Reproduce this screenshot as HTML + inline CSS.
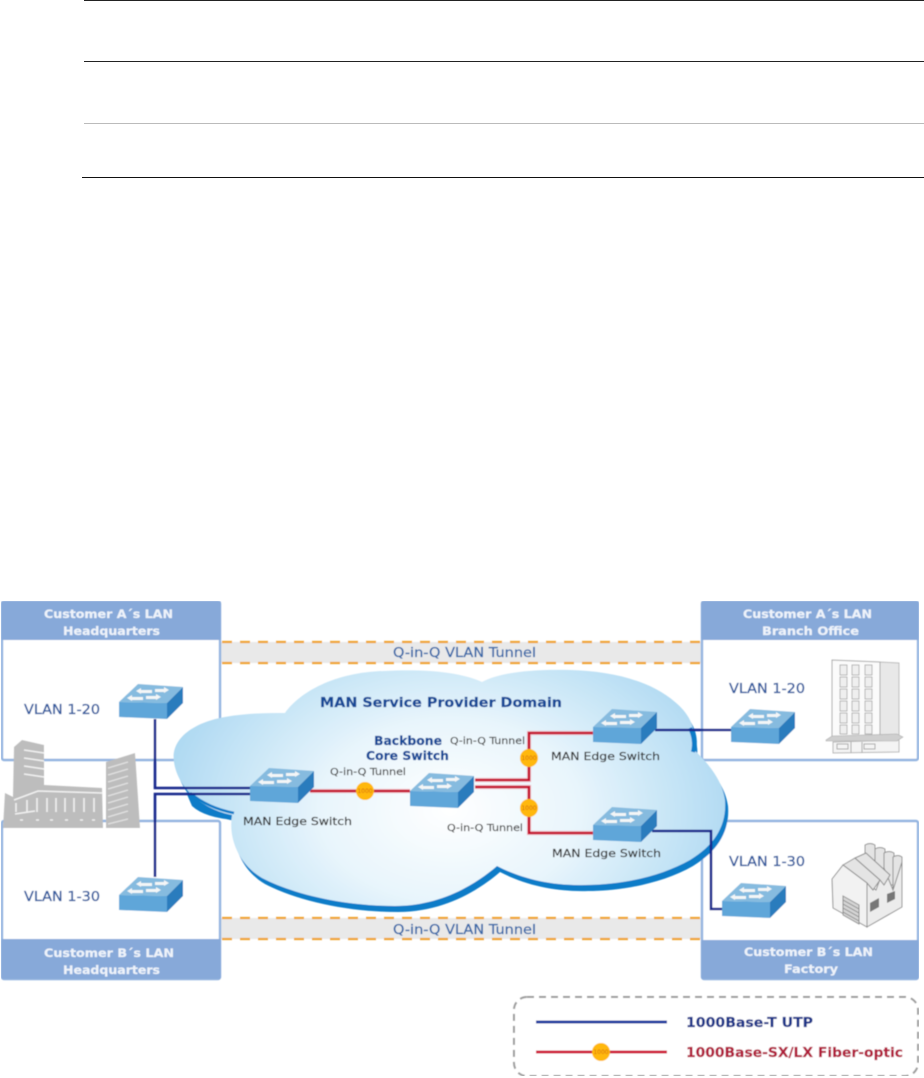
<!DOCTYPE html>
<html><head><meta charset="utf-8"><style>
html,body{margin:0;padding:0;background:#fff;width:924px;height:1078px;overflow:hidden}
svg{display:block}
text{font-family:"DejaVu Sans","Liberation Sans",sans-serif}
.h{font-weight:bold;font-size:11.5px;fill:#eef3fa;stroke:#eef3fa;stroke-width:.2}
.v{font-size:13px;fill:#2f5a9e;stroke:#2f5a9e;stroke-width:.3}
.q{font-size:10px;fill:#444;stroke:#444;stroke-width:.15}
.m{font-size:11px;fill:#333;stroke:#333;stroke-width:.2}
.b{font-weight:bold;fill:#174a96;stroke:#174a96;stroke-width:.2}
.t{font-size:13px;fill:#3768a8;stroke:#3768a8;stroke-width:.25}
</style></head><body>
<svg width="924" height="1078" viewBox="0 0 924 1078" xmlns="http://www.w3.org/2000/svg">
<defs>
<radialGradient id="cg" gradientUnits="userSpaceOnUse" cx="450" cy="810" r="290" gradientTransform="translate(0 243) scale(1 .7)">
<stop offset="0" stop-color="#ffffff"/><stop offset=".45" stop-color="#e8f5fc"/><stop offset="1" stop-color="#aed9f2"/>
</radialGradient>
<filter id="bl" x="0" y="0" width="100%" height="100%"><feGaussianBlur stdDeviation="0.4"/></filter>
<path id="cloud" d="M174 762C170 738 195 722 225 717C248 713 268 713 285 713C300 692 335 672 385 671C425 669 460 672 482 682C500 672 535 669 570 670C610 671 650 680 675 702C692 716 697 732 692 748C705 760 722 778 725 800C727 825 715 845 690 860C660 877 620 885 585 885C550 886 520 878 497 866C475 885 440 906 395 906C345 906 295 895 262 878C240 865 228 840 232 815C205 810 178 790 174 762Z"/>
<g id="sw">
<polygon points="0,18 19,0 64,3 48,19" fill="#86bbdf"/>
<polygon points="0,18 48,19 48,35 0,33" fill="#5ea6d9"/>
<polygon points="48,19 64,3 64,19 48,35" fill="#2a7cbd"/>
<g fill="#f4f6f7">
<polygon points="17,7 22,4 22,6 33,6 33,9 22,9 22,10"/>
<polygon points="50,6 45,3 45,5 36,5 36,8 45,8 45,9"/>
<polygon points="8,14 13,11 13,13 24,13 24,16 13,16 13,17"/>
<polygon points="42,13 37,10 37,12 27,12 27,15 37,15 37,16"/>
</g>
</g>
</defs>

<rect x="84" y="0" width="840" height="1" fill="#222"/>
<rect x="84" y="61" width="840" height="1" fill="#222"/>
<rect x="84" y="123" width="840" height="1" fill="#bbb"/>
<rect x="82" y="177" width="842" height="1" fill="#111"/>

<g filter="url(#bl)">
<!-- tunnels -->
<rect x="220" y="642" width="481" height="21" fill="#e9e9e9"/>
<rect x="220" y="918" width="481" height="21" fill="#e9e9e9"/>
<g stroke="#f0a22e" stroke-width="2.2" stroke-dasharray="10 8" fill="none">
<path d="M222 642H701M222 663H701M222 918H701M222 939H701"/>
</g>

<!-- boxes -->
<g fill="#fff" stroke="#93b4e0" stroke-width="2.4">
<rect x="2" y="602" width="218" height="158" rx="2"/>
<rect x="2" y="821" width="218" height="158" rx="2"/>
<rect x="702" y="602" width="216" height="158" rx="2"/>
<rect x="702" y="821" width="216" height="158" rx="2"/>
</g>
<g fill="#87a9d9">
<rect x="1" y="601" width="220" height="39" rx="2"/>
<rect x="1" y="939" width="220" height="40" rx="2"/>
<rect x="701" y="601" width="218" height="39" rx="2"/>
<rect x="701" y="940" width="218" height="39" rx="2"/>
</g>

<!-- left building -->
<g fill="#bdbdbd">
<polygon points="14,747 22,740 44,745 44,785 102,788 103,828 3,828 5,793 13,797"/>
<polygon points="106,762 135,753 140,828 106,828"/>
</g>
<g stroke="#f1f1f1" stroke-width="1.6" fill="none">
<path d="M24 750L44 753M24 758L44 761M24 766L44 769M24 774L44 777"/>
<path d="M14 800L38 791L102 793"/>
<path d="M16 803V812M27 800V812M37 798V812M47 798V812M56 798V812M65 798V812M74 798V812M84 798V812M94 798V812"/>
<path d="M15 814L35 811M20 820h3M36 820h3M50 820h3M65 820h3M80 820h3M92 820h3"/>
</g>
<g stroke="#e2e2e2" stroke-width="1.4" fill="none">
<path d="M108 768L128 762M108 775L128 769M108 782L128 776M108 789L128 783M108 796L128 790M108 803L128 797M108 810L128 804M108 817L128 811M108 824L128 819"/>
</g>

<!-- right building -->
<polygon points="880,662 899,663 899,737 880,737" fill="#e8e8e8" stroke="#bbb"/>
<polygon points="832,660 880,662 880,737 832,737" fill="#fbfbfb" stroke="#aaa"/>
<g fill="#efefef" stroke="#a6a6a6" stroke-width=".8">
<rect x="840" y="665" width="7" height="10"/><rect x="852" y="665" width="7" height="10"/><rect x="865" y="665" width="7" height="10"/>
<rect x="840" y="677" width="7" height="10"/><rect x="852" y="677" width="7" height="10"/><rect x="865" y="677" width="7" height="10"/>
<rect x="840" y="689" width="7" height="10"/><rect x="852" y="689" width="7" height="10"/><rect x="865" y="689" width="7" height="10"/>
<rect x="840" y="701" width="7" height="10"/><rect x="852" y="701" width="7" height="10"/><rect x="865" y="701" width="7" height="10"/>
<rect x="840" y="713" width="7" height="10"/><rect x="852" y="713" width="7" height="10"/><rect x="865" y="713" width="7" height="10"/>
<rect x="840" y="725" width="7" height="9"/><rect x="852" y="725" width="7" height="9"/><rect x="865" y="725" width="7" height="9"/>
</g>
<polygon points="833,742 899,740 899,752 833,753" fill="#f4f4f4" stroke="#b5b5b5"/>
<polygon points="826,740 832,736 897,734 903,737 897,741 826,741" fill="#cfcfcf" stroke="#aaa" stroke-width=".6"/>
<path d="M837 744h11v5h-11zM864 744h11v5h-11zM851 742v11M862 742v11" fill="none" stroke="#aaa"/>

<!-- factory -->
<g stroke="#8e8e8e" stroke-width="1" fill="#e4e4e4">
<path d="M865 845q5-3 10 0V875H865Z"/>
<path d="M875 849q5-3 10 0V880H875Z"/>
<path d="M884 853q5-3 10 0V885H884Z"/>
<path d="M893 857q5-3 9 0V890H893Z"/>
<polygon points="867,927 902,907 902,862 893,890 884,868 876,890 867,883" fill="#ececec"/>
<polygon points="843,865 855,858 880,880 873,890 867,883"/>
<polygon points="855,858 866,853 890,875 884,885 880,880"/>
<polygon points="832,879 843,865 867,883 867,927 833,908" fill="#f2f2f2"/>
</g>
<polygon points="843,896 859,905 859,924 843,915" fill="#d4d4d4" stroke="#8e8e8e"/>
<path d="M843 900L859 909M843 904L859 913M843 908L859 917M843 912L859 921" stroke="#888" stroke-width=".8"/>
<polygon points="870,903 879,898 879,907 870,912" fill="#777"/>
<polygon points="887,894 895,891 895,899 887,903" fill="#777"/>

<!-- cloud -->
<use href="#cloud" transform="translate(3 6)" fill="#0b7cc8"/>
<path d="M186 792Q205 810 236 814L236 820Q205 818 192 806Z" fill="#0b7cc8"/>
<path d="M689 727Q699 742 697 756L688 750Q694 740 689 727Z" fill="#0b7cc8"/>
<use href="#cloud" fill="url(#cg)"/>
<path d="M190 793Q208 808 234 813" fill="none" stroke="#0b7cc8" stroke-width="2.5"/>
<path d="M690 728Q696 740 693 752" fill="none" stroke="#0b7cc8" stroke-width="4"/>

<!-- blue links -->
<g stroke="#14278c" stroke-width="2.6" fill="none">
<path d="M155 719V788H250M250 794H155V877"/>
<path d="M655 730H731"/>
<path d="M652 831H711V909H722"/>
</g>

<!-- red links -->
<g stroke="#f3b9c2" stroke-width="4.4" fill="none" opacity=".7">
<path d="M310 791H410M475 780H529V733H593M475 787H529V833H593"/>
</g>
<g stroke="#c4102c" stroke-width="2.6" fill="none">
<path d="M310 791H410M475 780H529V733H593M475 787H529V833H593"/>
</g>
<g fill="#ffb80f">
<circle cx="365" cy="791" r="9"/><circle cx="529" cy="758" r="9"/><circle cx="529" cy="808" r="9"/>
</g>
<g font-size="6" fill="#d66a10" text-anchor="middle">
<text x="365" y="793">1000</text><text x="529" y="760">1000</text><text x="529" y="810">1000</text>
</g>

<!-- switches -->
<use href="#sw" x="119" y="684"/>
<use href="#sw" x="119" y="877"/>
<use href="#sw" x="250" y="768"/>
<use href="#sw" x="410" y="773"/>
<use href="#sw" x="593" y="709"/>
<use href="#sw" x="593" y="807"/>
<use href="#sw" x="731" y="709"/>
<use href="#sw" x="722" y="883"/>

<!-- labels -->
<text class="h" x="44" y="618" textLength="129" lengthAdjust="spacingAndGlyphs">Customer A´s LAN</text>
<text class="h" x="63" y="635" textLength="97" lengthAdjust="spacingAndGlyphs">Headquarters</text>
<text class="h" x="44" y="957" textLength="130" lengthAdjust="spacingAndGlyphs">Customer B´s LAN</text>
<text class="h" x="63" y="974" textLength="97" lengthAdjust="spacingAndGlyphs">Headquarters</text>
<text class="h" x="743" y="618" textLength="129" lengthAdjust="spacingAndGlyphs">Customer A´s LAN</text>
<text class="h" x="762" y="635" textLength="97" lengthAdjust="spacingAndGlyphs">Branch Office</text>
<text class="h" x="744" y="956" textLength="129" lengthAdjust="spacingAndGlyphs">Customer B´s LAN</text>
<text class="h" x="784" y="973" textLength="54" lengthAdjust="spacingAndGlyphs">Factory</text>

<text class="v" x="24" y="714" textLength="76" lengthAdjust="spacingAndGlyphs">VLAN 1-20</text>
<text class="v" x="24" y="901" textLength="76" lengthAdjust="spacingAndGlyphs">VLAN 1-30</text>
<text class="v" x="729" y="693" textLength="76" lengthAdjust="spacingAndGlyphs">VLAN 1-20</text>
<text class="v" x="729" y="866" textLength="76" lengthAdjust="spacingAndGlyphs">VLAN 1-30</text>

<text class="t" x="393" y="657" textLength="143" lengthAdjust="spacingAndGlyphs">Q-in-Q VLAN Tunnel</text>
<text class="t" x="393" y="934" textLength="143" lengthAdjust="spacingAndGlyphs">Q-in-Q VLAN Tunnel</text>

<text class="b" font-size="13" x="320" y="707" textLength="242" lengthAdjust="spacingAndGlyphs">MAN Service Provider Domain</text>
<text class="b" font-size="12" x="374" y="745" textLength="68" lengthAdjust="spacingAndGlyphs">Backbone</text>
<text class="b" font-size="12" x="366" y="760" textLength="83" lengthAdjust="spacingAndGlyphs">Core Switch</text>

<text class="q" x="450" y="744" textLength="75" lengthAdjust="spacingAndGlyphs">Q-in-Q Tunnel</text>
<text class="q" x="330" y="775" textLength="76" lengthAdjust="spacingAndGlyphs">Q-in-Q Tunnel</text>
<text class="q" x="447" y="831" textLength="76" lengthAdjust="spacingAndGlyphs">Q-in-Q Tunnel</text>

<text class="m" x="243" y="825" textLength="109" lengthAdjust="spacingAndGlyphs">MAN Edge Switch</text>
<text class="m" x="551" y="760" textLength="109" lengthAdjust="spacingAndGlyphs">MAN Edge Switch</text>
<text class="m" x="552" y="857" textLength="109" lengthAdjust="spacingAndGlyphs">MAN Edge Switch</text>

<!-- legend -->
<rect x="514" y="997" width="404" height="79" rx="13" fill="#fff" stroke="#9d9d9d" stroke-width="2" stroke-dasharray="7 5"/>
<path d="M536 1022H667" stroke="#2440a0" stroke-width="3"/>
<path d="M536 1052H667" stroke="#d0203c" stroke-width="3"/>
<circle cx="601" cy="1052" r="9" fill="#ffb80f"/>
<text x="601" y="1054" font-size="6" fill="#d66a10" text-anchor="middle">1000</text>
<text x="686" y="1027" font-size="13" font-weight="bold" fill="#1c3488" stroke="#1c3488" stroke-width=".2" textLength="127" lengthAdjust="spacingAndGlyphs">1000Base-T UTP</text>
<text x="686" y="1057" font-size="13" font-weight="bold" fill="#b01e3a" stroke="#b01e3a" stroke-width=".2" textLength="217" lengthAdjust="spacingAndGlyphs">1000Base-SX/LX Fiber-optic</text>
</g>
</svg>
</body></html>
